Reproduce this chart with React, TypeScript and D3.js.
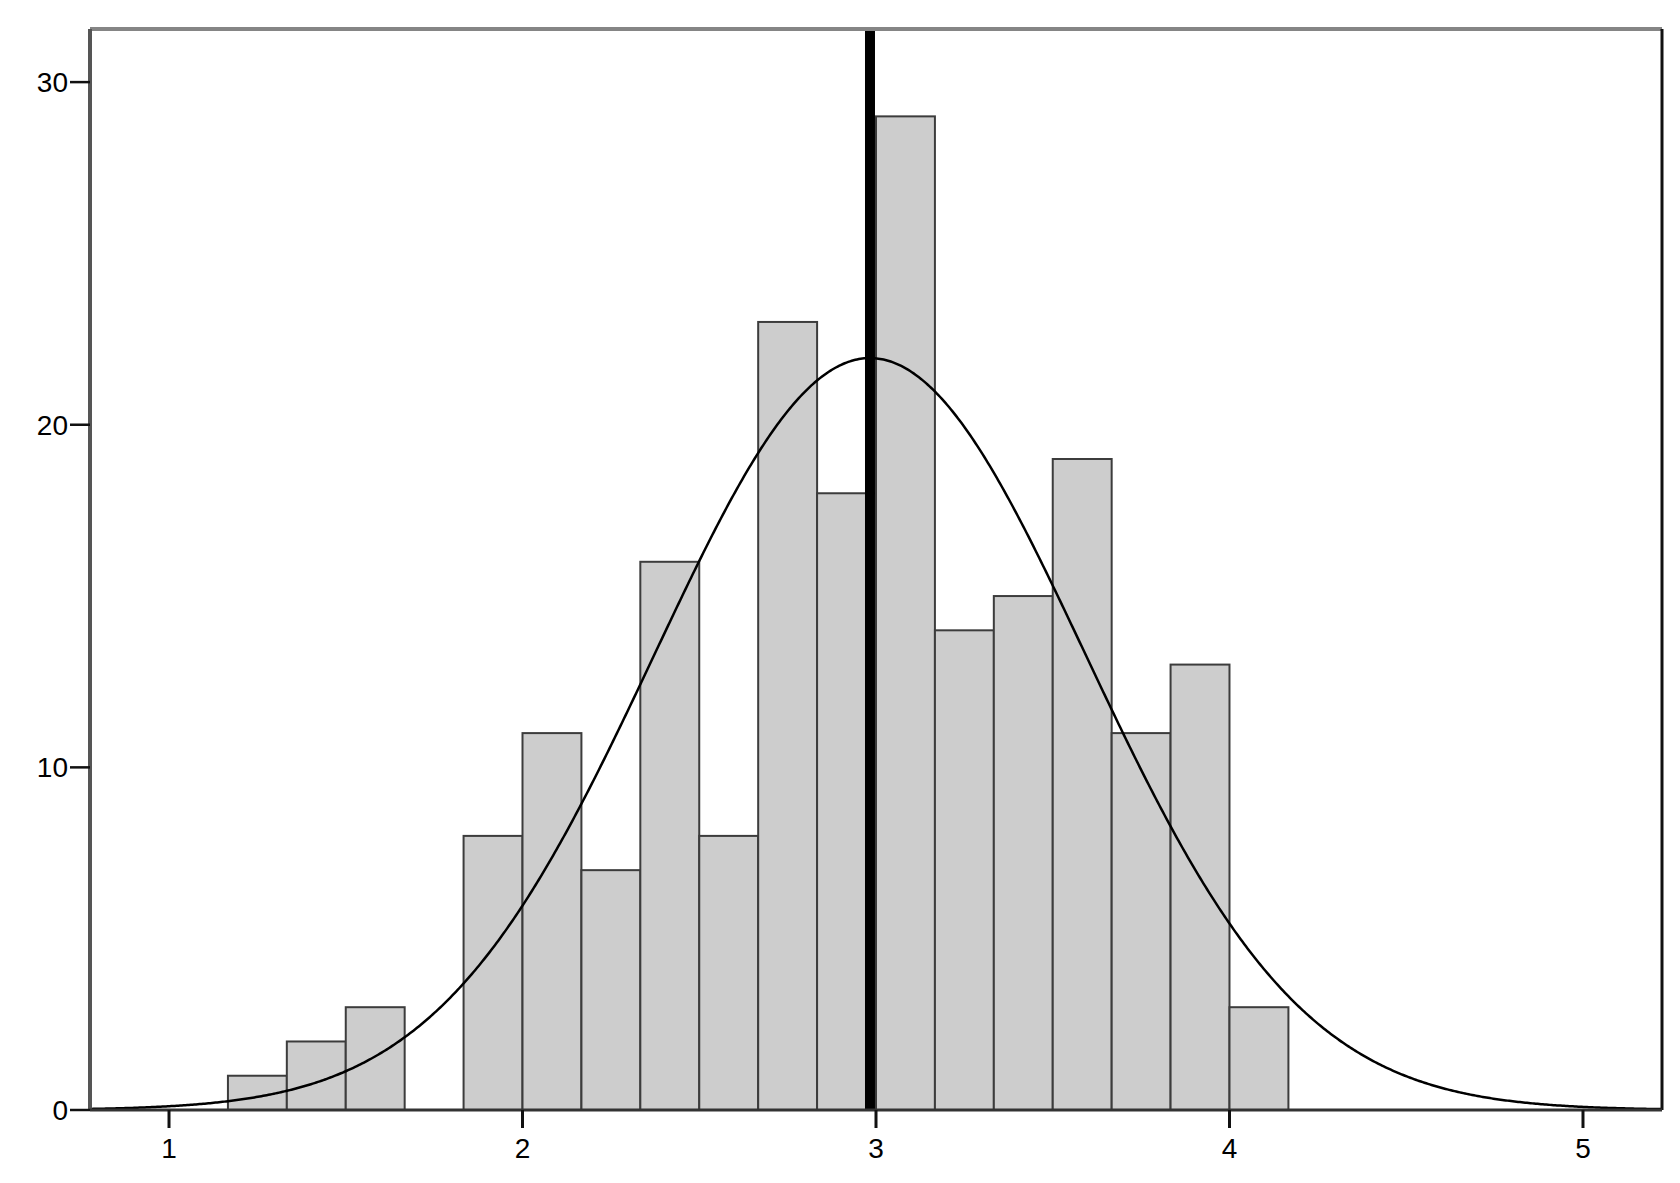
import React from "react";
import * as d3 from "d3";

const binStarts = [1.1667, 1.3333, 1.5, 1.6667, 1.8333, 2.0, 2.1667, 2.3333, 2.5, 2.6667, 2.8333, 3.0, 3.1667, 3.3333, 3.5, 3.6667, 3.8333, 4.0];
const binWidth = 1 / 6;
const counts = [1, 2, 3, 0, 8, 11, 7, 16, 8, 23, 18, 29, 14, 15, 19, 11, 13, 3];
const xTicks = [1, 2, 3, 4, 5];
const yTicks = [0, 10, 20, 30];
const meanValue = 2.983;
const sdValue = 0.609;
const totalN = 201;

const W = 1680;
const H = 1183;
const left = 90;
const right = 1662;
const top = 29;
const bottom = 1110;

export default function App() {
  const x = d3.scaleLinear().domain([0.7765, 5.2235]).range([left, right]);
  const y = d3.scaleLinear().domain([0, 31.55]).range([bottom, top]);

  const pdf = (v: number) =>
    (totalN * binWidth) / (sdValue * Math.sqrt(2 * Math.PI)) *
    Math.exp(-((v - meanValue) ** 2) / (2 * sdValue * sdValue));
  const xs = d3.range(0.7765, 5.2236, 0.005);
  const line = d3
    .line<number>()
    .x((d) => x(d))
    .y((d) => y(pdf(d)))
    .curve(d3.curveLinear);

  return (
    <svg
      width={W}
      height={H}
      style={{ position: "absolute", left: 0, top: 0, background: "#fff" }}
      fontFamily="'Liberation Sans', Arial, sans-serif"
    >
      <rect x={0} y={0} width={W} height={H} fill="#fff" />
      {/* bars */}
      {counts.map((c, i) =>
        c > 0 ? (
          <rect
            key={i}
            x={x(binStarts[i])}
            y={y(c)}
            width={x(binStarts[i] + binWidth) - x(binStarts[i])}
            height={y(0) - y(c)}
            fill="#cdcdcd"
            stroke="#3c3c3c"
            strokeWidth={2}
          />
        ) : null
      )}
      {/* mean line */}
      <line
        x1={x(meanValue)}
        x2={x(meanValue)}
        y1={top}
        y2={bottom}
        stroke="#000"
        strokeWidth={10}
      />
      {/* normal curve */}
      <clipPath id="plotclip">
        <rect x={left} y={top} width={right - left} height={bottom - top} />
      </clipPath>
      <path
        d={line(xs) || ""}
        fill="none"
        stroke="#000"
        strokeWidth={2.5}
        clipPath="url(#plotclip)"
      />
      {/* frame */}
      <line x1={left} x2={right} y1={top} y2={top} stroke="#858585" strokeWidth={4} />
      <line x1={right} x2={right} y1={top} y2={bottom} stroke="#111" strokeWidth={3} />
      <line x1={left} x2={left} y1={top} y2={bottom} stroke="#555" strokeWidth={4} />
      <line x1={left} x2={right} y1={bottom} y2={bottom} stroke="#333" strokeWidth={3} />
      {/* y ticks */}
      {yTicks.map((t) => (
        <g key={"y" + t}>
          <line x1={left - 20} x2={left} y1={y(t)} y2={y(t)} stroke="#111" strokeWidth={2.5} />
          <text
            x={left - 22}
            y={y(t)}
            dy="0.36em"
            textAnchor="end"
            fontSize={28}
            fill="#000"
          >
            {t}
          </text>
        </g>
      ))}
      {/* x ticks */}
      {xTicks.map((t) => (
        <g key={"x" + t}>
          <line x1={x(t)} x2={x(t)} y1={bottom} y2={bottom + 18} stroke="#111" strokeWidth={3} />
          <text
            x={x(t)}
            y={bottom + 48}
            textAnchor="middle"
            fontSize={28}
            fill="#000"
          >
            {t}
          </text>
        </g>
      ))}
    </svg>
  );
}
